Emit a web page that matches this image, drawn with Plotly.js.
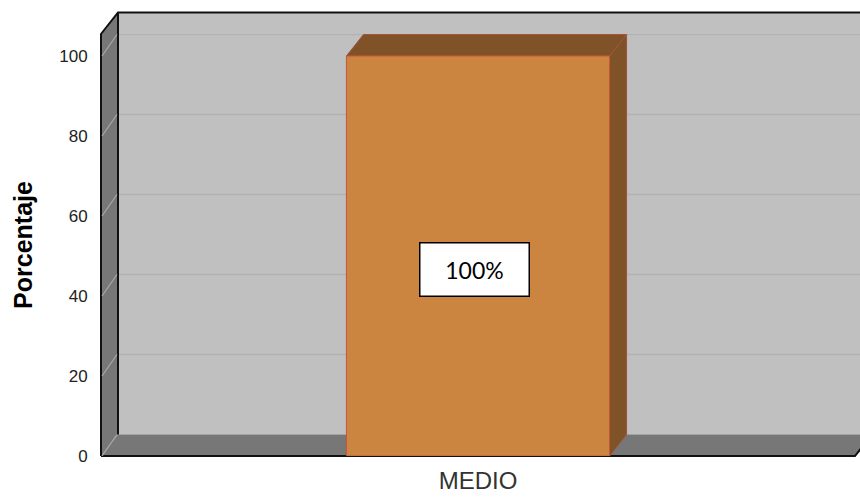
<!DOCTYPE html>
<html>
<head>
<meta charset="utf-8">
<script src="https://cdn.plot.ly/plotly-3.0.1.min.js"></script>
<style>html,body{margin:0;padding:0;background:#fff;}#chart{width:860px;height:497px;}</style>
</head>
<body>
<div id="chart"></div>
<script>
// ---- data ----
const categories = ['MEDIO'];
const values = [100];
const valueLabels = ['100%'];
const yTickValues = [0, 20, 40, 60, 80, 100];
const yTickLabels = ['0', '20', '40', '60', '80', '100'];
const yAxisTitle = 'Porcentaje';

// ---- geometry helpers (layout only) ----
const W = 860, H = 497, ML = 101, MR = 5, MT = 34, MB = 41;
const PW = W - ML - MR, PH = H - MT - MB;
const YMAX = 105.5;
const DX = 17, DY = 21.5;               // 3D depth offset in pixels
const dxData = DX / PW;                  // x range width is 1
const dyData = DY * YMAX / PH;
const px = x => (x - ML) / PW;
const py = y => (H - MB - y) / PH;
const barWidth = 0.349;

const xIdx = categories.map((c, i) => i);

const shapes = [];
// back wall
shapes.push({type:'rect', xref:'paper', yref:'paper', x0:px(ML+DX), x1:px(875), y0:py(H-MB-DY), y1:py(MT-DY), fillcolor:'#c0c0c0', line:{width:0}, layer:'below'});
// side wall
shapes.push({type:'path', xref:'paper', yref:'paper', path:`M ${px(ML)},${py(H-MB)} L ${px(ML)},${py(MT)} L ${px(ML+DX)},${py(MT-DY)} L ${px(ML+DX)},${py(H-MB-DY)} Z`, fillcolor:'#777777', line:{width:0}, layer:'below'});
// floor
shapes.push({type:'path', xref:'paper', yref:'paper', path:`M ${px(ML)},${py(H-MB)} L ${px(ML+DX)},${py(H-MB-DY)} L ${px(880)},${py(H-MB-DY)} L ${px(W-MR)},${py(H-MB)} Z`, fillcolor:'#777777', line:{width:0}, layer:'below'});
// black edges
const edge = {color:'#111111', width:2};
shapes.push({type:'path', xref:'paper', yref:'paper', path:`M ${px(ML)},${py(H-MB)} L ${px(ML)},${py(MT)} L ${px(ML+DX)},${py(MT-DY)} L ${px(875)},${py(MT-DY)}`, line:edge, layer:'below'});
shapes.push({type:'path', xref:'paper', yref:'paper', path:`M ${px(ML+DX)},${py(MT-DY)} L ${px(ML+DX)},${py(H-MB-DY)}`, line:edge, layer:'below'});
shapes.push({type:'path', xref:'paper', yref:'paper', path:`M ${px(ML)},${py(H-MB)} L ${px(W-MR)},${py(H-MB)} L ${px(W-MR+DX*0.35)},${py(H-MB-DY*0.35)}`, line:edge, layer:'below'});
// gridlines on back wall and diagonals on side wall
yTickValues.forEach(v => {
  if (v > 0) {
    shapes.push({type:'line', xref:'paper', yref:'y', x0:px(ML+DX+1), x1:px(875), y0:v+dyData, y1:v+dyData, line:{color:'#b2b2b2', width:1.5}, layer:'below'});
  } else {
    shapes.push({type:'line', xref:'paper', yref:'y', x0:px(ML+DX+1), x1:px(875), y0:v+dyData, y1:v+dyData, line:{color:'#a4a4a4', width:1}, layer:'below'});
  }
  shapes.push({type:'line', xref:'paper', yref:'y', x0:px(ML+1), x1:px(ML+DX-1), y0:v, y1:v+dyData, line:{color:'#a8a8a8', width:1.2}, layer:'below'});
});
// bar 3D faces
values.forEach((v, i) => {
  const xl = xIdx[i] - barWidth/2, xr = xIdx[i] + barWidth/2;
  shapes.push({type:'path', xref:'x', yref:'y', path:`M ${xl},${v} L ${xr},${v} L ${xr+dxData},${v+dyData} L ${xl+dxData},${v+dyData} Z`, fillcolor:'#7f5228', line:{color:'#a2553a', width:1}, layer:'below'});
  shapes.push({type:'path', xref:'x', yref:'y', path:`M ${xr},0 L ${xr},${v} L ${xr+dxData},${v+dyData} L ${xr+dxData},${dyData} Z`, fillcolor:'#7f5228', line:{color:'#a2553a', width:1}, layer:'below'});
});

const annotations = values.map((v, i) => ({
  x: xIdx[i], y: v/2, xref:'x', yref:'y', text: valueLabels[i], showarrow:false,
  xshift:-3.5, yshift:-13,
  font:{family:'Lato, "Open Sans", sans-serif', size:23, color:'#000'},
  bgcolor:'#ffffff', bordercolor:'#000000', borderwidth:1.5, borderpad:2,
  width:104, height:48, align:'center', valign:'middle'
}));

const trace = {
  type:'bar', x:xIdx, y:values, width:barWidth,
  marker:{color:'#cc8540', line:{color:'#c0583a', width:1}},
  hoverinfo:'skip'
};

const layout = {
  width:W, height:H,
  margin:{l:ML, r:MR, t:MT, b:MB, pad:0},
  paper_bgcolor:'#ffffff', plot_bgcolor:'rgba(0,0,0,0)',
  showlegend:false,
  font:{family:'"Liberation Sans", Arial, sans-serif', color:'#222'},
  xaxis:{range:[-0.5, 0.5], tickmode:'array', tickvals:xIdx, ticktext:categories,
         showgrid:false, zeroline:false, showline:false, ticks:'outside', ticklen:3, tickcolor:'rgba(0,0,0,0)',
         tickfont:{size:24, color:'#333'}, fixedrange:true},
  yaxis:{range:[0, YMAX], tickmode:'array', tickvals:yTickValues, ticktext:yTickLabels,
         showgrid:false, zeroline:false, showline:false, ticks:'outside', ticklen:9, tickcolor:'rgba(0,0,0,0)',
         ticklabelshift:-2.5,
         tickfont:{size:17, color:'#222'},
         title:{text:yAxisTitle, font:{size:25, color:'#000', family:'"Liberation Sans", Arial, sans-serif', weight:'bold'}, standoff:19},
         fixedrange:true},
  shapes:shapes,
  annotations:annotations
};

Plotly.newPlot('chart', [trace], layout, {displayModeBar:false, staticPlot:true});
</script>
</body>
</html>
